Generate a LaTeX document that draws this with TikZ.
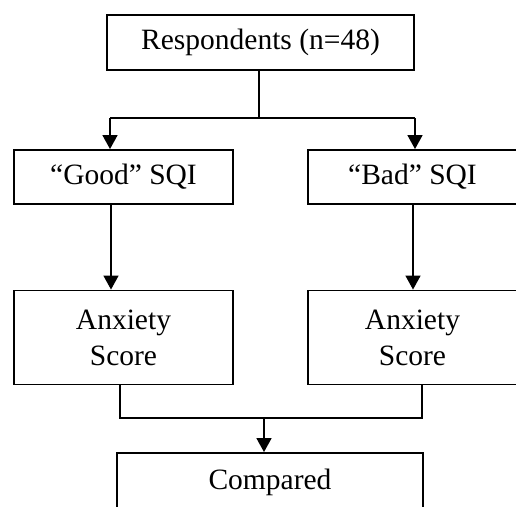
\documentclass[tikz,border=0pt]{standalone}
\usepackage{fontspec}
\setmainfont{Liberation Serif}
\usetikzlibrary{arrows.meta}

\begin{document}
\begin{tikzpicture}[x=1pt,y=-1pt,
    box/.style={draw, line width=1.9pt, inner sep=0pt, align=center,
        font=\fontsize{29.5}{36}\selectfont},
    link/.style={line width=1.6pt},
    arr/.style={link, -{Triangle[width=15pt,length=14pt]}}]
    \useasboundingbox (0,0) rectangle (516,506);
    \clip (0,0) rectangle (516,506);
    % boxes
    \node[box, minimum width=307pt, minimum height=55pt] (top) at (260.5,42.5) {Respondents (n=48)};
    \node[box, minimum width=219pt, minimum height=54pt] (good) at (123.5,177) {“Good” SQI};
    \node[box, minimum width=209pt, minimum height=54pt] (bad) at (412.5,177) {“Bad” SQI};
    \node[box, minimum width=219pt, minimum height=94pt] (anxL) at (123.5,337.5) {Anxiety\\Score};
    \node[box, minimum width=209pt, minimum height=94pt] (anxR) at (412.5,337.5) {Anxiety\\Score};
    \node[box, minimum width=306pt, minimum height=58pt] (cmp) at (270,482) {Compared};
    % split points
    \coordinate (split) at (259,118);
    \coordinate (sl) at (110,118);
    \coordinate (sr) at (415,118);
    \coordinate (jl) at (120,418);
    \coordinate (jr) at (422,418);
    \coordinate (merge) at (264,418);
    % top split
    \draw[link] (top.south -| split) -- (split);
    \draw[link] (sl) -- (sr);
    \draw[arr] (sl) -- (good.north -| sl);
    \draw[arr] (sr) -- (bad.north -| sr);
    % middle arrows
    \draw[arr] (good.south -| 111,0) -- (anxL.north -| 111,0);
    \draw[arr] (bad.south -| 413,0) -- (anxR.north -| 413,0);
    % bottom merge
    \draw[link] (anxL.south -| jl) -- (jl) -- (jr) -- (anxR.south -| jr);
    \draw[arr] (merge) -- (cmp.north -| merge);
\end{tikzpicture}
\end{document}
